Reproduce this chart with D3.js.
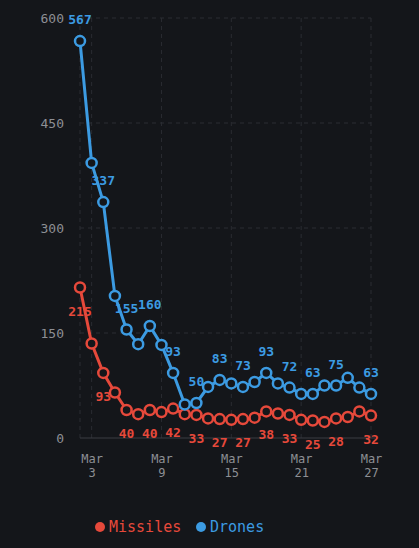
<!DOCTYPE html>
<html>
<head>
<meta charset="utf-8">
<script src="https://cdn.jsdelivr.net/npm/d3@7"></script>
<style>
  html, body { margin: 0; padding: 0; background: #14161a; }
  svg { display: block; }
</style>
</head>
<body>
<div id="chart"></div>
<script>
const dates = ["2024-03-02","2024-03-03","2024-03-04","2024-03-05","2024-03-06","2024-03-07","2024-03-08",
  "2024-03-09","2024-03-10","2024-03-11","2024-03-12","2024-03-13","2024-03-14","2024-03-15","2024-03-16",
  "2024-03-17","2024-03-18","2024-03-19","2024-03-20","2024-03-21","2024-03-22","2024-03-23","2024-03-24",
  "2024-03-25","2024-03-26","2024-03-27"];
const missiles = [215,135,93,65,40,34,40,37,42,34,33,28,27,26,27,29,38,35,33,26,25,23,28,30,38,32];
const drones = [567,393,337,203,155,134,160,133,93,48,50,73,83,78,73,80,93,78,72,63,63,75,75,86,72,63];
// points that carry a value label
const labelIdx = [0, 2, 4, 6, 8, 10, 12, 14, 16, 18, 20, 22, 25];
const yTicks = [0, 150, 300, 450, 600];
const xTickDates = ["2024-03-03","2024-03-09","2024-03-15","2024-03-21","2024-03-27"];

const width = 419;
const height = 548;
const margin = { top: 18, right: 48, bottom: 110, left: 80 };
const red = "#e6493b";
const blue = "#3c9be2";
const bg = "#14161a";
const font = "'DejaVu Sans Mono', monospace";

const parse = d3.utcParse("%Y-%m-%d");
const days = dates.map(parse);

const svg = d3.select("#chart")
  .append("svg")
  .attr("width", width)
  .attr("height", height);

const x = d3.scaleUtc()
  .domain(d3.extent(days))
  .range([margin.left, width - margin.right]);

const y = d3.scaleLinear()
  .domain([0, 600])
  .range([height - margin.bottom, margin.top]);

// grid
const grid = svg.append("g");
grid.selectAll(".hg")
  .data(yTicks.filter(t => t > 0))
  .join("line")
  .attr("x1", x.range()[0]).attr("x2", x.range()[1])
  .attr("y1", d => y(d)).attr("y2", d => y(d))
  .attr("stroke", "#2a2c32").attr("stroke-dasharray", "4,4");
grid.selectAll(".vg")
  .data([days[0]].concat(xTickDates.map(parse)))
  .join("line")
  .attr("x1", d => x(d)).attr("x2", d => x(d))
  .attr("y1", y(600)).attr("y2", y(0))
  .attr("stroke", "#2a2c32").attr("stroke-dasharray", "4,4");
grid.append("line")
  .attr("x1", x.range()[0]).attr("x2", x.range()[1] + 4)
  .attr("y1", y(0)).attr("y2", y(0))
  .attr("stroke", "#3a3c42");

// y axis
const yAxis = svg.append("g")
  .attr("transform", `translate(${margin.left - 16},0)`)
  .call(d3.axisLeft(y).tickValues(yTicks).tickSize(0).tickPadding(0));
yAxis.select(".domain").remove();
yAxis.selectAll("text")
  .attr("fill", "#8d8f94")
  .style("font-family", font)
  .style("font-size", "13px");

// x axis
const xAxis = svg.append("g")
  .attr("transform", `translate(0,${y(0)})`)
  .call(d3.axisBottom(x).tickValues(xTickDates.map(parse)).tickSize(0).tickFormat(() => ""));
xAxis.select(".domain").remove();
xAxis.selectAll(".tick text").remove();
xAxis.selectAll(".tick").each(function(d) {
  const t = d3.select(this).append("text")
    .attr("fill", "#8d8f94")
    .attr("text-anchor", "middle")
    .style("font-family", font)
    .style("font-size", "12px");
  t.append("tspan").attr("x", 0).attr("y", 25).text(d3.utcFormat("%b")(d));
  t.append("tspan").attr("x", 0).attr("y", 39).text(d3.utcFormat("%-d")(d));
});

function drawSeries(values, color, above) {
  const pts = values.map((v, i) => ({ d: days[i], v, i }));
  const line = d3.line().x(p => x(p.d)).y(p => y(p.v));
  svg.append("path")
    .datum(pts)
    .attr("d", line)
    .attr("fill", "none")
    .attr("stroke", color)
    .attr("stroke-width", 3)
    .attr("stroke-linejoin", "round");
  svg.append("g").selectAll("circle")
    .data(pts)
    .join("circle")
    .attr("cx", p => x(p.d))
    .attr("cy", p => y(p.v))
    .attr("r", 5)
    .attr("fill", bg)
    .attr("stroke", color)
    .attr("stroke-width", 2.5);
  svg.append("g").selectAll("text")
    .data(pts.filter(p => labelIdx.includes(p.i)))
    .join("text")
    .attr("x", p => x(p.d))
    .attr("y", p => y(p.v) + (above ? -17 : 28))
    .attr("text-anchor", "middle")
    .attr("fill", color)
    .style("font-family", font)
    .style("font-size", "13px")
    .style("font-weight", "bold")
    .text(p => p.v);
}

drawSeries(missiles, red, false);
drawSeries(drones, blue, true);

// legend
const legend = svg.append("g").attr("transform", "translate(100,527)");
const items = [{ name: "Missiles", color: red, x: 0 }, { name: "Drones", color: blue, x: 101 }];
items.forEach(it => {
  legend.append("circle").attr("cx", it.x).attr("cy", 0).attr("r", 5).attr("fill", it.color);
  legend.append("text")
    .attr("x", it.x + 9).attr("y", 5)
    .attr("fill", it.color)
    .style("font-family", font)
    .style("font-size", "15px")
    .text(it.name);
});
</script>
</body>
</html>
